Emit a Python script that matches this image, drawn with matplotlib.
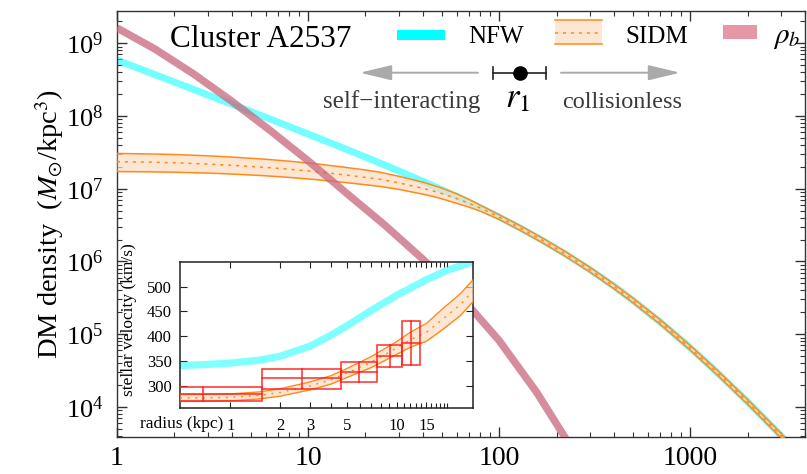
import numpy as np
import matplotlib
matplotlib.use("Agg")
import matplotlib.pyplot as plt
from matplotlib.patches import Rectangle, FancyArrowPatch
from matplotlib.lines import Line2D
from matplotlib.ticker import FixedLocator, FuncFormatter, LogLocator, NullFormatter

plt.rcParams['font.family'] = ['Liberation Serif', 'DejaVu Serif']
plt.rcParams['mathtext.fontset'] = 'stix'

# ---------------- density profiles (radius in kpc, log10 of Msun/kpc^3) ----------------
r_nfw = [1, 1.5, 2, 3, 4, 6, 8, 11, 15, 20, 25, 30, 40, 50, 60, 70, 80, 100, 130,
         170, 220, 300, 400, 500, 700, 1000, 1400, 2000, 2800, 4000]
nfw_log_rho = [8.768, 8.591, 8.466, 8.288, 8.161, 7.982, 7.853, 7.710, 7.568, 7.435,
               7.330, 7.242, 7.101, 6.988, 6.894, 6.811, 6.738, 6.612, 6.455,
               6.285, 6.111, 5.885, 5.658, 5.469, 5.165, 4.816, 4.464, 4.071, 3.684, 3.260]

r_sidm = [1, 1.5, 2, 3, 4, 6, 8, 11, 15, 20, 24, 30, 40, 45, 50, 60, 70, 80, 100, 130,
          170, 220, 300, 400, 500, 700, 1000, 1400, 2000, 2800, 4000]
sidm_log_hi = [7.485, 7.478, 7.470, 7.452, 7.435, 7.405, 7.378, 7.343, 7.300, 7.258,
               7.225, 7.170, 7.090, 7.048, 7.010, 6.930, 6.850, 6.772, 6.642, 6.487,
               6.317, 6.143, 5.917, 5.690, 5.501, 5.197, 4.848, 4.496, 4.103, 3.716, 3.292]
sidm_log_mid = [7.372, 7.365, 7.357, 7.338, 7.322, 7.293, 7.268, 7.235, 7.195, 7.155,
                7.128, 7.080, 7.005, 6.970, 6.935, 6.865, 6.797, 6.733, 6.611, 6.455,
                6.285, 6.111, 5.885, 5.658, 5.469, 5.165, 4.816, 4.464, 4.071, 3.684, 3.260]
sidm_log_lo = [7.236, 7.232, 7.227, 7.215, 7.202, 7.178, 7.155, 7.125, 7.090, 7.055,
               7.030, 6.990, 6.925, 6.895, 6.862, 6.800, 6.745, 6.690, 6.580, 6.423,
               6.253, 6.079, 5.853, 5.626, 5.437, 5.133, 4.784, 4.432, 4.039, 3.652, 3.228]

r_bary = [1, 1.58, 2.51, 3.98, 6.31, 10, 15.8, 25.1, 39.8, 63.1, 100, 158, 251]
bary_log_rho = [9.21, 8.92, 8.58, 8.205, 7.805, 7.385, 6.945, 6.505, 6.035, 5.515,
                4.915, 4.195, 3.355]

x_ticks = [1, 10, 100, 1000]

# ---------------- stellar velocity dispersion (inset) ----------------
r_vel = [0.5, 0.7, 1, 1.5, 2, 3, 4, 5, 7, 10, 15, 20, 28.4]
vel_nfw = [341, 343, 346, 352, 360, 380, 402, 421, 452, 483, 514, 533, 550]

r_vel_sidm = [0.5, 0.7, 1, 1.5, 2, 3, 4, 5, 7, 10, 12, 15, 19, 24, 28.4]
vel_sidm_mid = [276, 276, 277, 281, 287, 300, 312, 326, 348, 377, 393, 408, 436, 464, 491]
vel_sidm_hi = [283, 283, 284, 288, 294.5, 308, 320.5, 335, 359, 390, 408, 426, 457, 486, 513]
vel_sidm_lo = [269, 269, 270, 274, 279.5, 292, 303.5, 317, 337, 364, 378, 390, 415, 442, 469]

bin_lo = [0.3, 1.56, 4.60, 7.62, 10.67]
bin_hi = [1.56, 4.60, 7.62, 10.67, 13.73]
bin_r = [0.683, 2.69, 5.92, 9.08, 12.13]
vel_obs = [283.3, 315.5, 327.6, 360.4, 386.0]
vel_obs_lo = [270.0, 294.6, 308.7, 338.4, 341.8]
vel_obs_hi = [297.4, 333.6, 347.7, 382.0, 430.0]

inset_xticks = [1, 2, 3, 5, 10, 15]
inset_xminor = [4, 6, 7, 8, 9, 11, 12, 13, 14, 16, 17, 18, 19, 20]
inset_yticks = [300, 350, 400, 450, 500]

# ---------------- colours ----------------
CYAN = '#00ffff'
PINK = '#c8677e'
ORANGE = '#ff8a1c'
PEACH = '#fddcc0'
GREY = '#aaaaaa'

W, H = 807, 474
fig = plt.figure(figsize=(W / 100, H / 100), dpi=100)


def fx(px):
    return px / W


def fy(py):
    return 1 - py / H


ax = fig.add_axes([fx(117), fy(436.7), 688 / W, 426 / H])
ax.set_xscale('log')
ax.set_yscale('log')
ax.set_xlim(1, 4000)
ax.set_ylim(3.9e3, 2.8e9)

ax.plot(r_nfw, 10 ** np.array(nfw_log_rho), color=CYAN, alpha=0.55, lw=5.0,
        solid_capstyle='butt', zorder=2)
ax.fill_between(r_sidm, 10 ** np.array(sidm_log_lo), 10 ** np.array(sidm_log_hi),
                color=PEACH, alpha=0.7, lw=0, zorder=3)
for arr in (sidm_log_hi, sidm_log_lo):
    ax.plot(r_sidm, 10 ** np.array(arr), color=ORANGE, lw=1.1, zorder=4)
ax.plot(r_sidm, 10 ** np.array(sidm_log_mid), color=ORANGE, lw=1.1,
        dashes=(2.0, 3.2), zorder=4)
ax.plot(r_bary, 10 ** np.array(bary_log_rho), color=PINK, alpha=0.75, lw=5.4,
        solid_capstyle='butt', solid_joinstyle='round', zorder=5)

ax.xaxis.set_major_locator(FixedLocator(x_ticks))
ax.xaxis.set_major_formatter(FuncFormatter(lambda v, p: f'{v:g}'))
ax.xaxis.set_minor_locator(LogLocator(base=10, subs=np.arange(2, 10), numticks=20))
ax.xaxis.set_minor_formatter(NullFormatter())
ax.yaxis.set_major_locator(LogLocator(base=10, numticks=20))
ax.yaxis.set_minor_locator(LogLocator(base=10, subs=np.arange(2, 10), numticks=20))
ax.yaxis.set_minor_formatter(NullFormatter())
ax.tick_params(which='both', direction='in', top=True, right=True, colors='#333333')
ax.tick_params(which='major', length=7, width=1.0)
ax.tick_params(which='minor', length=3.5, width=0.8)
ax.tick_params(axis='x', which='major', pad=7, labelsize=20)
ax.tick_params(axis='y', which='major', pad=10, labelsize=19)
for lab in ax.get_xticklabels() + ax.get_yticklabels():
    lab.set_color('black')
for s in ax.spines.values():
    s.set_color('#333333')
    s.set_linewidth(1.0)

fig.text(fx(50), fy(224), r'DM density  ($M_{\odot}$/kpc$^3$)', rotation=90,
         fontsize=20.5, ha='center', va='center')

# ---------------- legend row ----------------
fig.text(fx(170), fy(46.7), 'Cluster A2537', fontsize=22.5, va='baseline')

fig.add_artist(Rectangle((fx(397), fy(40)), 48 / W, 10 / H, transform=fig.transFigure,
                         color=CYAN, lw=0))
fig.text(fx(468), fy(43.3), 'NFW', fontsize=18, va='baseline')

fig.add_artist(Rectangle((fx(555), fy(44)), 47 / W, 24 / H, transform=fig.transFigure,
                         color=PEACH, alpha=0.7, lw=0))
for yy in (20, 44):
    fig.add_artist(Line2D([fx(555), fx(602)], [fy(yy), fy(yy)], transform=fig.transFigure,
                          color=ORANGE, lw=1.1))
fig.add_artist(Line2D([fx(555), fx(602)], [fy(32.5), fy(32.5)], transform=fig.transFigure,
                      color=ORANGE, lw=1.1, dashes=(2.0, 3.2)))
fig.text(fx(625), fy(43.3), 'SIDM', fontsize=18, va='baseline')

fig.add_artist(Rectangle((fx(723), fy(39)), 34 / W, 14 / H, transform=fig.transFigure,
                         color='#e597a5', lw=0))
fig.text(fx(773), fy(43.3), r'$\rho_b$', fontsize=21, va='baseline')

# ---------------- r1 marker with direction arrows ----------------
y_arr = fy(72.7)
for x0, x1 in ((478, 360), (561, 680)):
    fig.add_artist(FancyArrowPatch((fx(x0), y_arr), (fx(x1), y_arr),
                                   transform=fig.transFigure,
                                   arrowstyle='-|>,head_length=1.95,head_width=0.47',
                                   mutation_scale=10, color=GREY, lw=1.4,
                                   shrinkA=0, shrinkB=0))
fig.add_artist(Line2D([fx(493), fx(546)], [y_arr, y_arr], transform=fig.transFigure,
                      color='#222222', lw=1.2))
for xc in (493, 546):
    fig.add_artist(Line2D([fx(xc), fx(xc)], [fy(67), fy(78.5)], transform=fig.transFigure,
                          color='#222222', lw=1.2))
fig.add_artist(Line2D([fx(520)], [y_arr], transform=fig.transFigure, marker='o',
                      markersize=9.5, color='black', lw=0))
fig.text(fx(323), fy(108), 'self\u2212interacting', fontsize=18, color='#3a3a3a',
         va='baseline')
fig.text(fx(518), fy(107), r'$r_1$', fontsize=25, ha='center', va='baseline')
fig.text(fx(562), fy(108.5), 'collisionless', fontsize=17.5, color='#3a3a3a',
         va='baseline')

# ---------------- inset: stellar velocity dispersion ----------------
axi = fig.add_axes([fx(180), fy(408.3), 292.7 / W, 146 / H])
axi.set_facecolor('white')
axi.set_xscale('log')
axi.set_xlim(0.5, 28.4)
axi.set_ylim(255, 549)

axi.plot(r_vel, vel_nfw, color=CYAN, alpha=0.5, lw=5.2, solid_capstyle='butt', zorder=2)
axi.fill_between(r_vel_sidm, vel_sidm_lo, vel_sidm_hi, color=PEACH, alpha=0.7, lw=0,
                 zorder=3)
for arr in (vel_sidm_hi, vel_sidm_lo):
    axi.plot(r_vel_sidm, arr, color=ORANGE, lw=1.0, zorder=4)
axi.plot(r_vel_sidm, vel_sidm_mid, color=ORANGE, lw=1.0, dashes=(1.5, 4.0), zorder=4)

for lo, hi, rc, v, vl, vh in zip(bin_lo, bin_hi, bin_r, vel_obs, vel_obs_lo, vel_obs_hi):
    axi.add_patch(Rectangle((lo, vl), hi - lo, vh - vl, fill=False, edgecolor='#ff1a1a',
                            lw=1.2, alpha=0.85, zorder=5))
    axi.plot([lo, hi], [v, v], color='#ff1a1a', lw=1.2, alpha=0.85, zorder=5)
    axi.plot([rc, rc], [vl, vh], color='#ff1a1a', lw=1.2, alpha=0.85, zorder=5)

axi.xaxis.set_major_locator(FixedLocator(inset_xticks))
axi.xaxis.set_major_formatter(FuncFormatter(lambda v, p: f'{v:g}'))
axi.xaxis.set_minor_locator(FixedLocator(inset_xminor))
axi.xaxis.set_minor_formatter(NullFormatter())
axi.yaxis.set_major_locator(FixedLocator(inset_yticks))
axi.tick_params(which='both', direction='in', top=True, right=True, colors='#222222',
                labelcolor='black')
axi.tick_params(axis='x', which='major', length=4, width=0.8, labelsize=12, pad=7)
axi.tick_params(axis='x', which='minor', length=3.5, width=0.8)
axi.tick_params(axis='y', which='major', length=5, width=0.8, labelsize=12, pad=6)
for s in axi.spines.values():
    s.set_color('#222222')
    s.set_linewidth(1.1)

fig.text(fx(223), fy(423.5), 'radius (kpc)', fontsize=12.5, ha='right', va='center')
fig.text(fx(129), fy(319.5), 'stellar velocity (km/s)', fontsize=12.5, rotation=90,
         ha='center', va='center')

fig.savefig('out.png', dpi=100)
